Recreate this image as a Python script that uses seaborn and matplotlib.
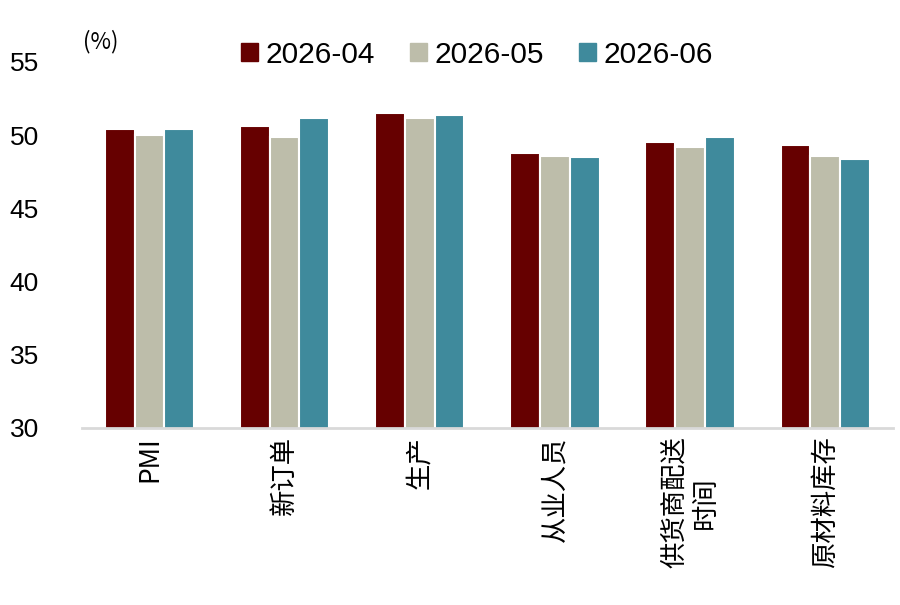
import pandas as pd
import matplotlib.pyplot as plt
import seaborn as sns

categories = ["PMI", "新订单", "生产", "从业人员", "供货商配送\n时间", "原材料库存"]
months = ["2026-04", "2026-05", "2026-06"]
vals_04 = [50.4, 50.6, 51.5, 48.8, 49.5, 49.3]
vals_05 = [50.0, 49.9, 51.2, 48.6, 49.2, 48.6]
vals_06 = [50.4, 51.2, 51.4, 48.5, 49.9, 48.4]
colors = ["#660000", "#BDBDAA", "#3F8A9C"]

df = pd.DataFrame({
    "cat": categories * 3,
    "month": [m for m in months for _ in categories],
    "val": vals_04 + vals_05 + vals_06,
})

sns.set_style("white")
plt.rcParams["font.family"] = ["Liberation Sans", "Noto Sans CJK SC", "DejaVu Sans"]
plt.rcParams["text.color"] = "black"
plt.rcParams["xtick.color"] = "black"
plt.rcParams["ytick.color"] = "black"

fig = plt.figure(figsize=(9, 6.05), dpi=100)
ax = fig.add_axes([0.091, 0.2926, 0.901, 0.605])

sns.barplot(data=df, x="cat", y="val", hue="month", order=categories,
            hue_order=months, palette=colors, saturation=1, width=0.66,
            edgecolor="white", linewidth=1.5, ax=ax)

ax.set_ylim(30, 55)
ax.set_yticks([30, 35, 40, 45, 50, 55])
ax.set_xlim(-0.5, len(categories) - 0.5)
ax.set_xlabel("")
ax.set_ylabel("")
ax.tick_params(axis="y", length=0, labelsize=19, pad=31)
ax.tick_params(axis="x", length=0, pad=6)
for lab in ax.get_xticklabels():
    lab.set_rotation(90)
    lab.set_fontsize(19)
    lab.set_family(["Noto Sans CJK SC", "DejaVu Sans"])
    lab.set_va("top")
    lab.set_ha("center")

for side in ["top", "right", "left"]:
    ax.spines[side].set_visible(False)
ax.spines["bottom"].set_color("#D9D9D9")
ax.spines["bottom"].set_linewidth(2)

ax.get_legend().remove()
handles = [plt.Rectangle((0, 0), 1, 1, color=c) for c in colors]
fig.legend(handles, months, loc="center", bbox_to_anchor=(0.53, 0.909),
           ncol=3, frameon=False, fontsize=21.5, handlelength=0.55,
           handleheight=0.55, handletextpad=0.25, columnspacing=1.2)

fig.text(0.092, 0.931, "(%)", fontsize=16, family=["Noto Sans CJK SC"],
         ha="left", va="center")

fig.savefig("out.png", dpi=100)
